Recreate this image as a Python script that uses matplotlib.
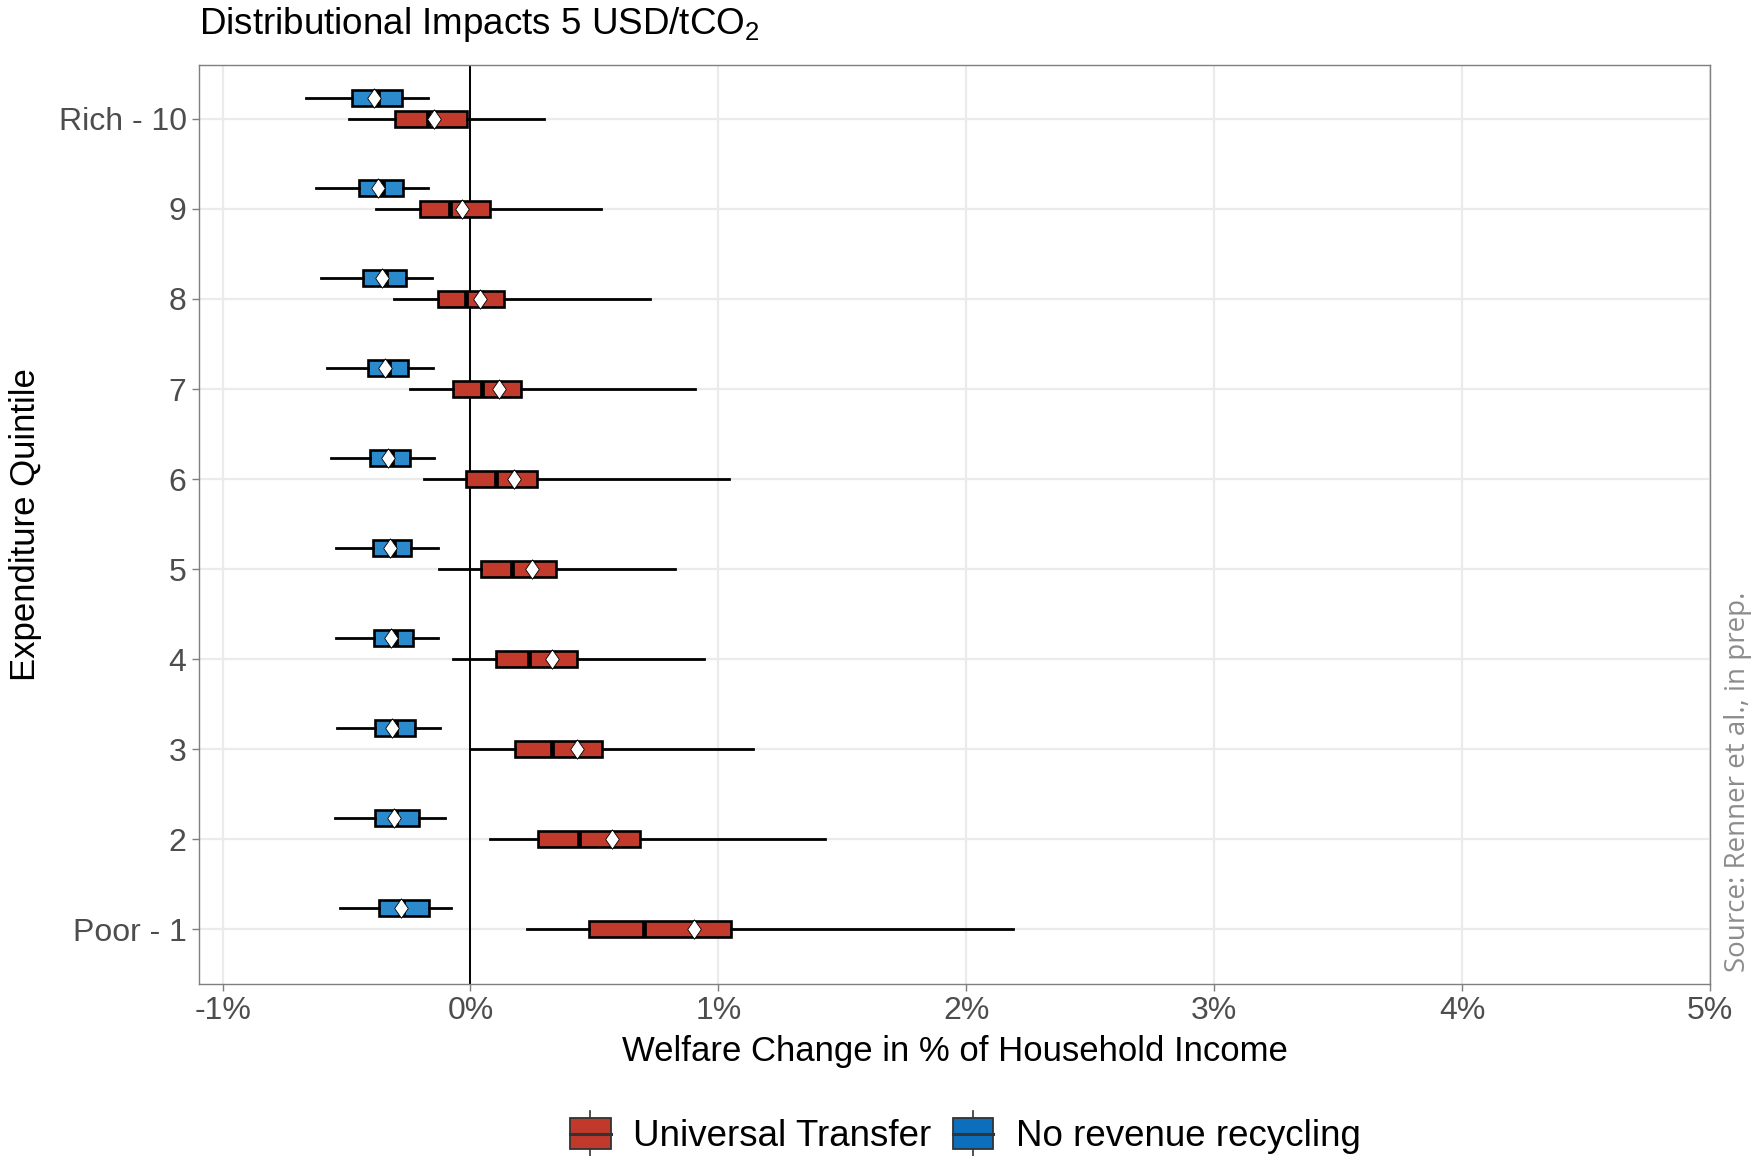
import matplotlib
matplotlib.use("Agg")
import matplotlib.pyplot as plt
from matplotlib.patches import Patch, Rectangle
from matplotlib.lines import Line2D
from matplotlib.legend_handler import HandlerBase

plt.rcParams['font.family'] = ['Liberation Sans', 'DejaVu Sans']

# Expenditure deciles (1 = poorest, 10 = richest)
deciles = [1, 2, 3, 4, 5, 6, 7, 8, 9, 10]
decile_labels = ["Poor - 1", "2", "3", "4", "5", "6", "7", "8", "9", "Rich - 10"]

# Universal Transfer: whisker low, Q1, median, Q3, whisker high, mean (% of income)
ut_whislo = [0.229, 0.079, 0.000, -0.069, -0.125, -0.187, -0.244, -0.307, -0.381, -0.492]
ut_q1     = [0.477, 0.273, 0.178, 0.103, 0.042, -0.017, -0.071, -0.133, -0.204, -0.304]
ut_med    = [0.699, 0.438, 0.329, 0.238, 0.168, 0.102, 0.046, -0.019, -0.083, -0.170]
ut_q3     = [1.049, 0.683, 0.532, 0.429, 0.344, 0.269, 0.205, 0.136, 0.077, -0.015]
ut_whishi = [2.188, 1.428, 1.139, 0.943, 0.826, 1.043, 0.906, 0.725, 0.526, 0.298]
ut_mean   = [0.900, 0.572, 0.431, 0.329, 0.248, 0.176, 0.113, 0.039, -0.035, -0.148]

# No revenue recycling
nr_whislo = [-0.528, -0.546, -0.539, -0.543, -0.543, -0.563, -0.580, -0.602, -0.625, -0.664]
nr_q1     = [-0.368, -0.387, -0.387, -0.389, -0.395, -0.404, -0.415, -0.432, -0.449, -0.478]
nr_med    = [-0.273, -0.301, -0.299, -0.302, -0.307, -0.316, -0.327, -0.341, -0.353, -0.373]
nr_q3     = [-0.169, -0.208, -0.225, -0.233, -0.238, -0.245, -0.253, -0.259, -0.272, -0.278]
nr_whishi = [-0.079, -0.102, -0.123, -0.131, -0.133, -0.147, -0.151, -0.157, -0.170, -0.173]
nr_mean   = [-0.280, -0.308, -0.315, -0.321, -0.324, -0.333, -0.343, -0.355, -0.372, -0.389]

x_ticks = [-1, 0, 1, 2, 3, 4, 5]
x_tick_labels = ["-1%", "0%", "1%", "2%", "3%", "4%", "5%"]

RED = "#c23a2b"
BLUE = "#2b8acb"
RED_KEY = "#c0392b"
BLUE_KEY = "#0b6fbd"

# slightly narrow diamond used for the group means
MEAN_MARKER = [(0, 1), (0.7, 0), (0, -1), (-0.7, 0), (0, 1)]


def make_stats(lo, q1, med, q3, hi, mean):
    return [dict(whislo=a, q1=b, med=c, q3=d, whishi=e, mean=f, fliers=[])
            for a, b, c, d, e, f in zip(lo, q1, med, q3, hi, mean)]


fig = plt.figure(figsize=(17.55, 11.56), dpi=100)
ax = fig.add_axes([0.1134, 0.1488, 0.8610, 0.7950])

ax.axvline(0, color="black", lw=1.4, zorder=1)

common = dict(widths=0.175, orientation="horizontal", patch_artist=True,
              showmeans=True, showcaps=False, showfliers=False,
              manage_ticks=False,
              boxprops=dict(edgecolor="black", linewidth=1.9),
              whiskerprops=dict(color="black", linewidth=2.0),
              medianprops=dict(color="black", linewidth=3.4),
              meanprops=dict(marker=MEAN_MARKER, markerfacecolor="white",
                             markeredgecolor="black", markeredgewidth=0.6,
                             markersize=14))

b_ut = ax.bxp(make_stats(ut_whislo, ut_q1, ut_med, ut_q3, ut_whishi, ut_mean),
              positions=deciles, **common)
b_nr = ax.bxp(make_stats(nr_whislo, nr_q1, nr_med, nr_q3, nr_whishi, nr_mean),
              positions=[d + 0.236 for d in deciles], **common)
for p in b_ut["boxes"]:
    p.set_facecolor(RED)
for p in b_nr["boxes"]:
    p.set_facecolor(BLUE)
for group in (b_ut, b_nr):
    for k in ("boxes", "whiskers", "medians", "means"):
        for art in group[k]:
            art.set_zorder(3 if k != "means" else 4)

ax.set_xlim(-1.095, 5.0)
ax.set_ylim(0.39, 10.6)
ax.set_xticks(x_ticks)
ax.set_xticklabels(x_tick_labels)
ax.set_yticks(deciles)
ax.set_yticklabels(decile_labels)
ax.grid(True, color="#ebebeb", linewidth=1.6, zorder=0)
ax.set_axisbelow(True)
for s in ax.spines.values():
    s.set_color("#7f7f7f")
    s.set_linewidth(1.0)
ax.tick_params(axis="both", colors="#7f7f7f", length=5, width=1.0,
               labelsize=23, labelcolor="#4d4d4d", pad=4)

ax.set_xlabel("Welfare Change in % of Household Income", fontsize=25,
              color="black", labelpad=6)
ax.set_ylabel("Expenditure Quintile", fontsize=25, color="black", labelpad=12)

fig.text(0.1134, 1 - 34 / 1156,
         r"Distributional Impacts 5 USD/tCO$_\mathregular{2}$",
         fontsize=26.5, color="black", ha="left", va="baseline")

fig.text(1738 / 1755, 1 - 972 / 1156, "Source: Renner et al., in prep.",
         rotation=90, ha="center", va="bottom", fontsize=20,
         color="#8c8c8c", family=["Open Sans", "DejaVu Sans"])


class BoxKeyHandler(HandlerBase):
    def create_artists(self, legend, orig_handle, xdescent, ydescent,
                       width, height, fontsize, trans):
        x0, y0 = -xdescent, -ydescent
        fc = orig_handle.get_facecolor()
        cx = x0 + width / 2
        stub = Line2D([cx, cx], [y0 - 0.25 * height, y0 + 1.25 * height],
                      color="#333333", lw=1.2, transform=trans)
        box = Rectangle((x0, y0), width, height, facecolor=fc,
                        edgecolor="#333333", lw=1.3, transform=trans)
        med = Line2D([x0, x0 + width], [y0 + height / 2] * 2,
                     color="#333333", lw=2.2, transform=trans)
        return [stub, box, med]


handles = [Patch(facecolor=RED_KEY), Patch(facecolor=BLUE_KEY)]
fig.legend(handles, ["Universal Transfer", "No revenue recycling"],
           loc="center", bbox_to_anchor=(0.55, 0.017), ncol=2, frameon=False,
           fontsize=26.5, handler_map={Patch: BoxKeyHandler()},
           handlelength=1.1, handleheight=0.9, handletextpad=0.6,
           columnspacing=0.6)

fig.savefig("out.png", dpi=100)
